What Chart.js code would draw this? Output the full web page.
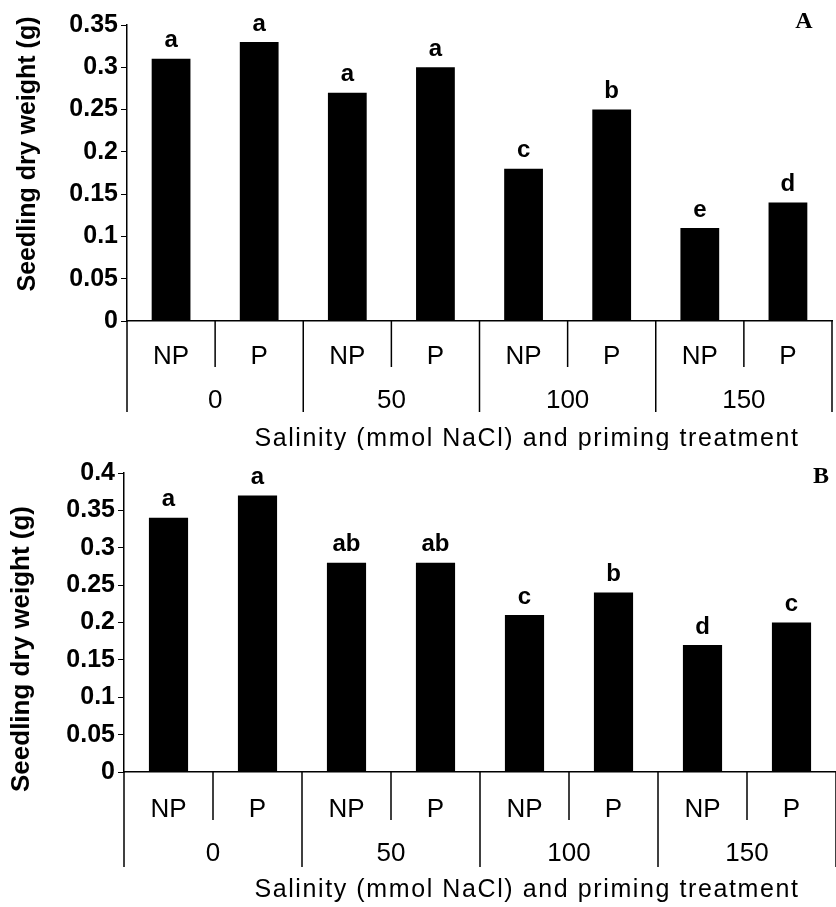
<!DOCTYPE html>
<html lang="en">
<head>
    <meta charset="UTF-8">
    <title>Seedling dry weight</title>
    <script src="https://cdn.jsdelivr.net/npm/chart.js"></script>
<style>
    body {
        margin: 0;
        background: #fff;
        font-family: 'Liberation Sans', Arial, sans-serif;
    }
    #wrap {
        position: relative;
        width: 836px;
        height: 907px;
    }
    canvas {
        position: absolute;
        left: 0;
    }
    #chartA { top: 0; }
    #chartB { top: 450px; }
</style>
</head>
<body>
<div id="wrap">
    <canvas id="chartA" width="836" height="450"></canvas>
    <canvas id="chartB" width="836" height="457"></canvas>
</div>

<script>
// categories
const treatments = ['NP', 'P', 'NP', 'P', 'NP', 'P', 'NP', 'P'];
const salinity = ['0', '50', '100', '150'];

// panel A
const dryWeightA = [0.31, 0.33, 0.27, 0.30, 0.18, 0.25, 0.11, 0.14];
const lettersA = ['a', 'a', 'a', 'a', 'c', 'b', 'e', 'd'];
const yTicksA = ['0', '0.05', '0.1', '0.15', '0.2', '0.25', '0.3', '0.35'];

// panel B
const dryWeightB = [0.34, 0.37, 0.28, 0.28, 0.21, 0.24, 0.17, 0.20];
const lettersB = ['a', 'a', 'ab', 'ab', 'c', 'b', 'd', 'c'];
const yTicksB = ['0', '0.05', '0.1', '0.15', '0.2', '0.25', '0.3', '0.35', '0.4'];

const yTitle = 'Seedling dry weight (g)';
const xTitle = 'Salinity (mmol NaCl) and priming treatment';

const SANS = '"Liberation Sans", Arial, sans-serif';

// draws the group axis, letters over bars, titles and panel tag
const annot = {
    id: 'annot',
    afterDraw(chart, args, o) {
        const ctx = chart.ctx;
        const area = chart.chartArea;
        const x = chart.scales.x;
        const meta = chart.getDatasetMeta(0);
        const b = area.bottom;
        ctx.save();
        ctx.fillStyle = '#000';
        ctx.strokeStyle = '#000';
        ctx.lineWidth = 1.5;

        // letters above bars
        ctx.font = 'bold 24px ' + SANS;
        ctx.textAlign = 'center';
        ctx.textBaseline = 'bottom';
        meta.data.forEach((bar, i) => {
            ctx.fillText(o.letters[i], bar.x, bar.y - 6);
        });

        // dividers under the axis
        const n = x.ticks.length;
        for (let i = 0; i <= n; i++) {
            let px;
            if (i === 0) px = area.left;
            else if (i === n) px = area.right;
            else px = (x.getPixelForValue(i - 1) + x.getPixelForValue(i)) / 2;
            const len = i % 2 === 0 ? o.longLen : o.shortLen;
            ctx.beginPath();
            ctx.moveTo(px, b);
            ctx.lineTo(px, b + len);
            ctx.stroke();
        }

        // salinity group labels
        ctx.font = '26px ' + SANS;
        ctx.textBaseline = 'middle';
        o.groups.forEach((g, k) => {
            const cx = (x.getPixelForValue(2 * k) + x.getPixelForValue(2 * k + 1)) / 2;
            ctx.fillText(g, cx, b + o.groupY);
        });

        // x title
        ctx.font = '25px ' + SANS;
        ctx.letterSpacing = '1.6px';
        ctx.fillText(xTitle, o.xTitleX, b + o.xTitleY);
        ctx.letterSpacing = '0px';

        // y title
        ctx.save();
        ctx.translate(o.yTitleX, o.yTitleY);
        ctx.rotate(-Math.PI / 2);
        ctx.font = 'bold ' + o.yTitleSize + 'px ' + SANS;
        ctx.fillText(yTitle, 0, 0);
        ctx.restore();

        // panel tag
        ctx.font = 'bold 24px "Liberation Serif", "Times New Roman", serif';
        ctx.fillText(o.tag, o.tagX, o.tagY);
        ctx.restore();
    }
};

function makeChart(id, values, letters, yTicks, cfg) {
    const ctx = document.getElementById(id).getContext('2d');
    const step = 0.05;
    return new Chart(ctx, {
        type: 'bar',
        data: {
            labels: treatments,
            datasets: [{
                data: values,
                backgroundColor: '#000',
                borderWidth: 0,
                barPercentage: 0.44,
                categoryPercentage: 1
            }]
        },
        options: {
            responsive: false,
            animation: false,
            events: [],
            layout: {
                padding: { top: cfg.padTop, right: cfg.padRight, left: 0, bottom: 0 }
            },
            plugins: {
                legend: { display: false },
                tooltip: { enabled: false },
                annot: {
                    letters: letters,
                    groups: salinity,
                    shortLen: cfg.shortLen,
                    longLen: cfg.longLen,
                    groupY: cfg.groupY,
                    xTitleX: 527,
                    xTitleY: cfg.xTitleY,
                    yTitleX: cfg.yTitleX,
                    yTitleY: cfg.yTitleY,
                    yTitleSize: cfg.yTitleSize,
                    tag: cfg.tag,
                    tagX: cfg.tagX,
                    tagY: cfg.tagY
                }
            },
            scales: {
                x: {
                    grid: { display: false, drawTicks: false },
                    border: { display: true, color: '#000', width: 1.5 },
                    ticks: {
                        color: '#000',
                        font: { family: SANS, size: 26 },
                        padding: cfg.xTickPad,
                        maxRotation: 0,
                        autoSkip: false
                    },
                    afterFit(scale) { scale.height = cfg.xHeight; }
                },
                y: {
                    min: 0,
                    max: step * (yTicks.length - 1),
                    grid: {
                        drawOnChartArea: false,
                        drawTicks: true,
                        tickLength: 6,
                        color: '#000',
                        lineWidth: 1
                    },
                    border: { display: true, color: '#000', width: 1.5 },
                    ticks: {
                        stepSize: step,
                        color: '#000',
                        padding: 3,
                        font: { family: SANS, size: 25, weight: 'bold' },
                        callback: (v, i) => yTicks[i]
                    },
                    afterFit(scale) { scale.width = cfg.yWidth; }
                }
            }
        },
        plugins: [annot]
    });
}

makeChart('chartA', dryWeightA, lettersA, yTicksA, {
    padTop: 25, padRight: 4, yWidth: 127, xHeight: 129,
    xTickPad: 20, shortLen: 46, longLen: 91, groupY: 80, xTitleY: 118,
    yTitleX: 28, yTitleY: 154, yTitleSize: 25,
    tag: 'A', tagX: 804, tagY: 22
});

makeChart('chartB', dryWeightB, lettersB, yTicksB, {
    padTop: 23, padRight: 0, yWidth: 124, xHeight: 135,
    xTickPad: 22, shortLen: 48, longLen: 95, groupY: 82, xTitleY: 118,
    yTitleX: 22, yTitleY: 199, yTitleSize: 26,
    tag: 'B', tagX: 821, tagY: 27
});
</script>
</body>
</html>
